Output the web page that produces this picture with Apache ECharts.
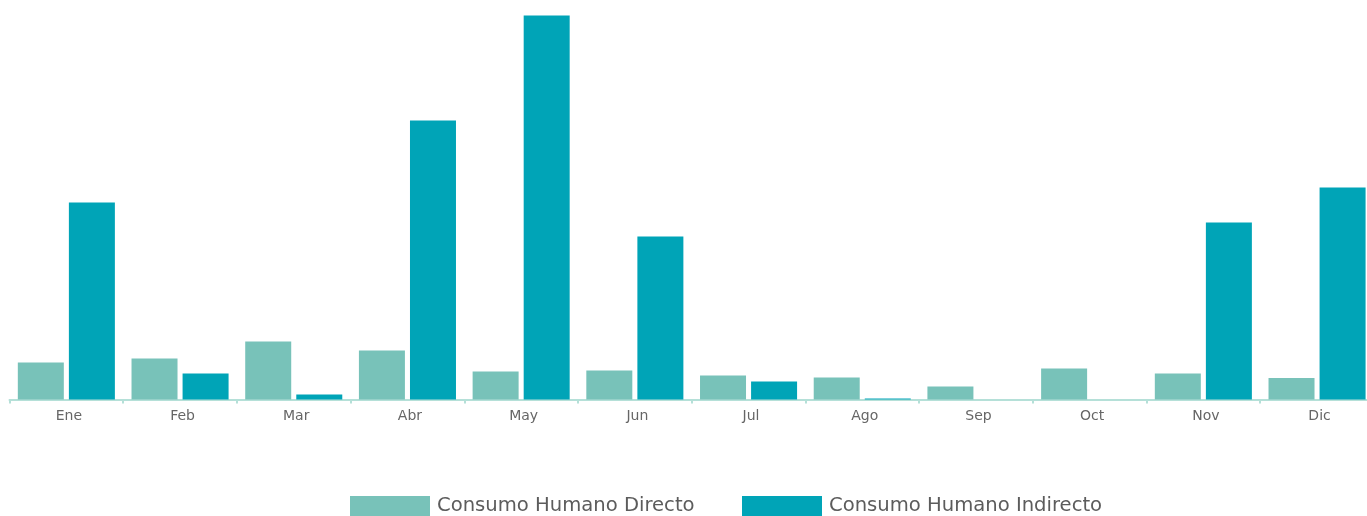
<!DOCTYPE html>
<html>
<head>
<meta charset="utf-8">
<script src="https://cdn.jsdelivr.net/npm/echarts@6/dist/echarts.min.js"></script>
<style>
html,body{margin:0;padding:0;background:#fff;overflow:hidden;width:1367px;height:516px;}
#c{width:1376px;height:516px;}
</style>
</head>
<body>
<div id="c"></div>
<script>
const categories = ['Ene','Feb','Mar','Abr','May','Jun','Jul','Ago','Sep','Oct','Nov','Dic'];
const seriesNames = ['Consumo Humano Directo','Consumo Humano Indirecto'];
const directo = [37, 41, 58, 49, 28, 29, 24, 22, 13, 31, 26, 21.5];
const indirecto = [197, 26, 5, 279, 384, 163, 18, 1, 0, 0, 177, 212];

const legendText = {fontFamily:'DejaVu Sans', fontSize:19.6, color:'#5c5c5c', padding:[0,0,0,2]};
const chart = echarts.init(document.getElementById('c'), null, {renderer:'canvas'});
chart.setOption({
  animation:false,
  color:['#78c2b9','#00a4b7'],
  grid:{left:9.5, width:1364.4, top:15.5, bottom:116.5, containLabel:false},
  legend:[
    {data:[seriesNames[0]], top:496, left:350, padding:0, itemWidth:80, itemHeight:20, icon:'rect', textStyle:legendText, selectedMode:false},
    {data:[seriesNames[1]], top:496, left:742, padding:0, itemWidth:80, itemHeight:20, icon:'rect', textStyle:legendText, selectedMode:false}
  ],
  xAxis:{
    type:'category', data:categories,
    axisLine:{lineStyle:{color:'#b5e0d8', width:2}},
    axisTick:{show:true, length:4, lineStyle:{color:'#b5e0d8', width:2}},
    axisLabel:{color:'#666', fontFamily:'DejaVu Sans', fontSize:14, margin:10, padding:[0,0,0,5]}
  },
  yAxis:{type:'value', min:0, max:384, show:false, splitLine:{show:false}},
  series:[
    {name:seriesNames[0], type:'bar', data:directo, barWidth:46, barGap:'11%'},
    {name:seriesNames[1], type:'bar', data:indirecto, barWidth:46, barGap:'11%'}
  ]
});
</script>
</body>
</html>
